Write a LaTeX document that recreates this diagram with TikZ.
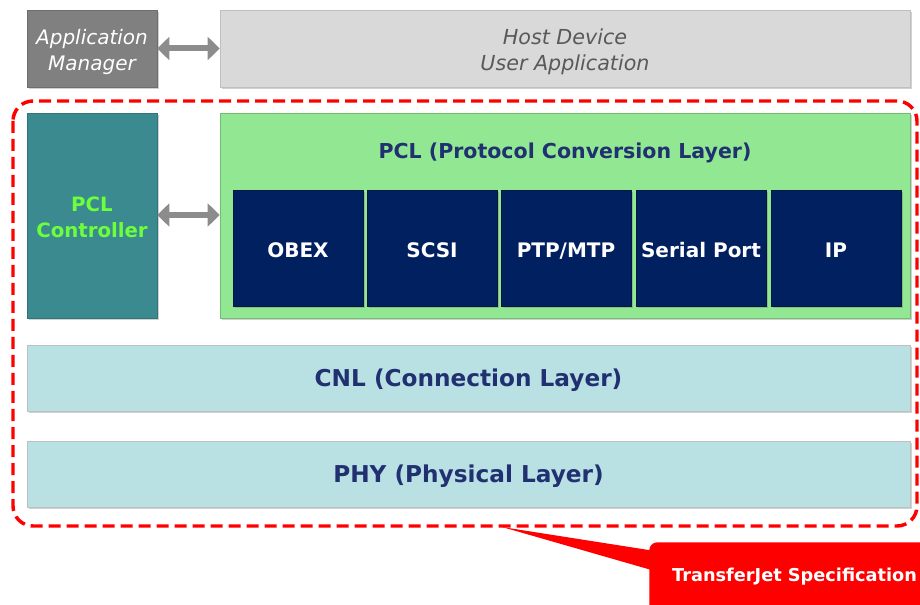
\documentclass[tikz,border=0pt]{standalone}
\usepackage{fontspec}
\setmainfont{DejaVu Sans}
\usetikzlibrary{arrows.meta,shadows}

\definecolor{appgray}{RGB}{128,128,128}
\definecolor{hostgray}{RGB}{217,217,217}
\definecolor{hosttext}{RGB}{89,89,89}
\definecolor{ctrlteal}{RGB}{58,138,143}
\definecolor{ctrlgreen}{RGB}{110,255,60}
\definecolor{pclgreen}{RGB}{146,232,146}
\definecolor{protonavy}{RGB}{0,32,96}
\definecolor{layercyan}{RGB}{185,224,227}
\definecolor{layertext}{RGB}{32,48,112}
\definecolor{specred}{RGB}{255,0,0}

\begin{document}
\begin{tikzpicture}[x=0.75pt,y=-0.75pt,
    box_shadow/.style={drop shadow={shadow xshift=1.5pt,shadow yshift=-1.5pt,opacity=0.3,fill=black!60}},
    app_box/.style={box_shadow,fill=appgray,draw=appgray!85!black,text=white,font=\fontsize{15}{19.5}\selectfont\itshape,align=center,minimum width=97.5pt,minimum height=57.75pt,inner sep=0pt},
    host_box/.style={box_shadow,fill=hostgray,draw=black!25,text=hosttext,font=\fontsize{15.5}{19.5}\selectfont\itshape,align=center,minimum width=517.5pt,minimum height=57.75pt,inner sep=0pt},
    ctrl_box/.style={box_shadow,fill=ctrlteal,draw=ctrlteal!85!black,text=ctrlgreen,font=\fontsize{14.8}{19.5}\selectfont\bfseries,align=center,minimum width=97.5pt,minimum height=153.75pt,inner sep=0pt},
    pcl_box/.style={box_shadow,fill=pclgreen,draw=pclgreen!80!black,minimum width=517.5pt,minimum height=153.75pt,inner sep=0pt},
    proto_box/.style={box_shadow,fill=protonavy,draw=protonavy!70!black,text=white,font=\fontsize{15}{18}\selectfont\bfseries,text height=16.5pt,text depth=2pt,minimum width=97.5pt,minimum height=87pt,inner sep=0pt},
    layer_box/.style={box_shadow,fill=layercyan,draw=black!25,text=layertext,font=\fontsize{17.4}{21}\selectfont\bfseries,minimum width=662.25pt,minimum height=49.5pt,inner sep=0pt},
    link_arrow/.style={{Triangle[width=17pt,length=9pt]}-{Triangle[width=17pt,length=9pt]},line width=4.5pt,draw=black!45},
    spec_border/.style={draw=specred,line width=2.6pt,dash pattern=on 9pt off 4.5pt,rounded corners=15pt},
    spec_label/.style={fill=specred,text=white,font=\fontsize{13.3}{16}\selectfont\bfseries,rounded corners=6pt,minimum width=210pt,minimum height=52pt,inner sep=0pt}]
  \useasboundingbox (0,0) rectangle (920,605);
  % top row
  \node[app_box] (appmgr) at (92,48.5) {\rule{0pt}{16pt}Application\\Manager};
  \node[host_box] (host) at (565,48.5) {\rule{0pt}{16pt}Host Device\\User Application};
  \draw[link_arrow] (appmgr.east) -- (host.west);
  % TransferJet stack
  \draw[spec_border] (13,101) rectangle (917,526);
  \node[ctrl_box] (pclctrl) at (92,215.5) {\rule{0pt}{13pt}PCL\\Controller};
  \node[pcl_box] (pcl) at (565,215.5) {};
  \node[text=layertext,font=\fontsize{15.4}{18}\selectfont\bfseries] (pcltitle) at (565,153) {PCL (Protocol Conversion Layer)};
  \draw[link_arrow] (pclctrl.east |- 0,215) -- (pcl.west |- 0,215);
  \node[proto_box] (obex) at (298,248) {OBEX};
  \node[proto_box] (scsi) at (432,248) {SCSI};
  \node[proto_box] (ptp) at (566,248) {PTP/MTP};
  \node[proto_box] (serial) at (701,248) {Serial Port};
  \node[proto_box] (ip) at (836,248) {IP};
  \node[layer_box] (cnl) at (468.5,378) {\rule{0pt}{17pt}CNL (Connection Layer)};
  \node[layer_box] (phy) at (468.5,474) {\rule{0pt}{17pt}PHY (Physical Layer)};
  % callout
  \node[spec_label,anchor=west] (spec) at (649,577) {\hspace{8pt}TransferJet Specification\hspace{20pt}};
  \coordinate (tip) at (502,527);
  \fill[specred] (tip) -- (655,551) -- (655,571) -- cycle;
\end{tikzpicture}
\end{document}
